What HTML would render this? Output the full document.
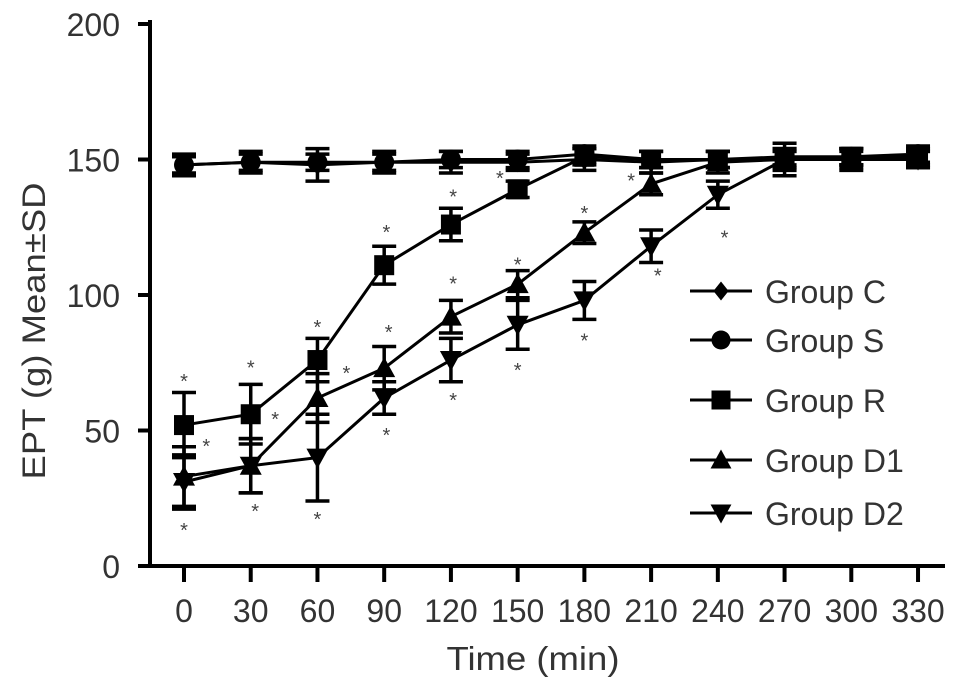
<!DOCTYPE html>
<html><head><meta charset="utf-8"><style>
body{margin:0;background:#fff;}
svg{display:block;font-family:"Liberation Sans",sans-serif;}
</style></head><body>
<svg id="chart" width="969" height="691" viewBox="0 0 969 691">
<g id="axes"></g><g id="series"></g><g id="stars"></g><g id="legend"></g>
<text x="533" y="670" font-size="33" text-anchor="middle" fill="#333" textLength="173" lengthAdjust="spacingAndGlyphs">Time (min)</text>
<text transform="translate(45,331) rotate(-90)" font-size="32" text-anchor="middle" fill="#333" textLength="297" lengthAdjust="spacingAndGlyphs">EPT (g) Mean±SD</text>
</svg>
<script>
const times=[0,30,60,90,120,150,180,210,240,270,300,330];
const yTicks=[0,50,100,150,200];
const groupNames=["Group C","Group S","Group R","Group D1","Group D2"];
const cVals=[148,149,148,149,149,149,150,149,150,150,151,151];
const cErr=[4,4,6,4,4,3,4,4,3,3,3,3];
const sVals=[148,149,149,149,150,150,152,150,150,151,151,152];
const sErr=[3,3,3,3,3,3,3,3,3,3,3,3];
const rVals=[52,56,76,111,126,139,151,150,150,150,151,151];
const rErr=[12,11,8,7,6,3,3,3,3,3,3,3];
const d1Vals=[33,37,62,73,92,104,123,141,149,150,150,150];
const d1Err=[11,10,9,8,6,5,4,4,4,4,3,3];
const d2Vals=[31,37,40,62,76,89,98,118,137,150,150,150];
const d2Err=[10,10,16,6,8,9,7,6,5,6,4,3];
const starTimes=[0,0,10,30,32,41,60,60,73,91,92,91,121,121,121,142,150,150,180,180,201,213,243];
const starVals=[69,14,45,74,21,55,89,18,72,124,87,49,137,105,62,144,112,73,131,84,143,108,122];

const NS="http://www.w3.org/2000/svg";
const X0=150,Y0=566,XR=945;
const xs=t=>184+t/30*66.73;
const ys=v=>Y0-v*2.71;
function el(tag,attrs,parent){const e=document.createElementNS(NS,tag);for(const k in attrs)e.setAttribute(k,attrs[k]);parent.appendChild(e);return e;}
const axes=document.getElementById('axes');
const ya=el('line',{x1:X0,y1:20,x2:X0,y2:Y0+2,stroke:'#000','stroke-width':4},axes);


const xa=el('line',{x1:X0-2,y1:Y0,x2:XR,y2:Y0,stroke:'#000','stroke-width':4},axes);


yTicks.forEach(v=>{
  el('line',{x1:X0-12,y1:ys(v),x2:X0,y2:ys(v),stroke:'#000','stroke-width':4},axes);
  const t=el('text',{x:X0-30,y:ys(v)+12,'font-size':32,'text-anchor':'end',fill:'#333'},axes);
  t.textContent=v;
  
  
});
times.forEach(tm=>{
  el('line',{x1:xs(tm),y1:Y0,x2:xs(tm),y2:Y0+16,stroke:'#000','stroke-width':4},axes);
  const t=el('text',{x:xs(tm),y:622,'font-size':32,'text-anchor':'middle',fill:'#333'},axes);
  t.textContent=tm;
  
  
});
function marker(kind,x,y,g,s){
  s=s||1;
  if(kind==='diamond')return el('polygon',{points:`${x},${y-10*s} ${x+8*s},${y} ${x},${y+10*s} ${x-8*s},${y}`,fill:'#000'},g);
  if(kind==='circle')return el('circle',{cx:x,cy:y,r:10*s,fill:'#000'},g);
  if(kind==='square')return el('rect',{x:x-10*s,y:y-10*s,width:20*s,height:20*s,fill:'#000'},g);
  if(kind==='tri')return el('polygon',{points:`${x},${y-11*s} ${x+11*s},${y+9*s} ${x-11*s},${y+9*s}`,fill:'#000'},g);
  return el('polygon',{points:`${x},${y+11*s} ${x+11*s},${y-9*s} ${x-11*s},${y-9*s}`,fill:'#000'},g);
}
const series=[[cVals,cErr,'diamond','group-c'],[sVals,sErr,'circle','group-s'],[rVals,rErr,'square','group-r'],[d1Vals,d1Err,'tri','group-d1'],[d2Vals,d2Err,'tridown','group-d2']];
const sg=document.getElementById('series');
series.forEach(([vals,err,kind,name])=>{
  const g=el('g',{},sg);
  
  
  const ln=el('polyline',{points:vals.map((v,i)=>xs(times[i])+','+ys(v)).join(' '),fill:'none',stroke:'#000','stroke-width':3},g);
  
  
  vals.forEach((v,i)=>{
    const x=xs(times[i]),hi=ys(v+err[i]),lo=ys(v-err[i]);
    el('path',{d:`M${x},${hi}V${lo}M${x-12},${hi}H${x+12}M${x-12},${lo}H${x+12}`,stroke:'#000','stroke-width':3.5,fill:'none'},g);
    const m=marker(kind,x,ys(v),g);
    
    
  });
});
const st=document.getElementById('stars');
starTimes.forEach((t,i)=>{
  const s=el('text',{x:xs(t),y:ys(starVals[i])+9,'font-size':20,'text-anchor':'middle',fill:'#444'},st);
  s.textContent='*';
  
  
});
const lg=document.getElementById('legend');
const legY=[291,340,400,460,513];
const kinds=['diamond','circle','square','tri','tridown'];
groupNames.forEach((n,i)=>{
  const g=el('g',{},lg);
  
  
  el('line',{x1:690,y1:legY[i],x2:752,y2:legY[i],stroke:'#000','stroke-width':3},g);
  marker(kinds[i],721,legY[i],g,0.95);
  const t=el('text',{x:765,y:legY[i]+12,'font-size':32,fill:'#333'},g);
  t.textContent=n;
});
</script>
</body></html>
